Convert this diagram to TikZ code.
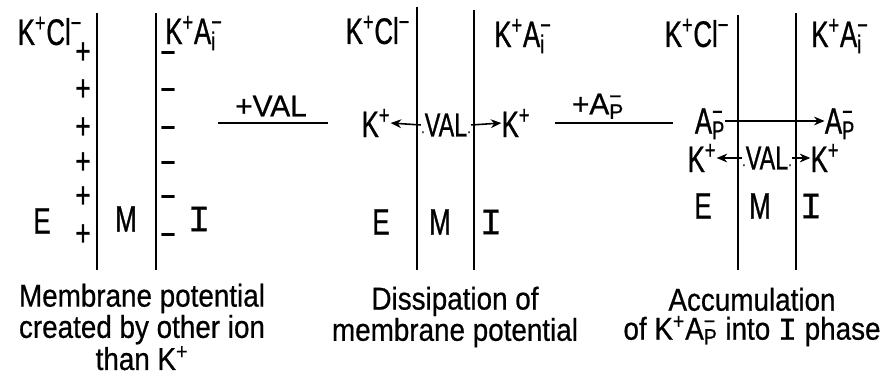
\documentclass[tikz,border=0pt]{standalone}
\usepackage{fontspec}
\setmainfont{Liberation Sans}[FakeStretch=0.7,FakeBold=0.8]
\newfontfamily\capfont{Liberation Sans}[FakeStretch=0.88,FakeBold=0.6]
\newfontfamily\rxnfont{Liberation Sans}[FakeBold=0.8]
\newfontfamily\romI{Liberation Mono}[FakeBold=0.8]
\usetikzlibrary{arrows.meta}
\newcommand\ionss[3]{#1{\ooalign{\textsubscript{#2}\cr\textsuperscript{#3}\cr}}}
\newcommand\pI{{\romI I}}
\newcommand\vdot{{\fontsize{9}{9}\selectfont·}}
\tikzset{
  lbl/.style={inner sep=0pt, font=\fontsize{21}{24}\selectfont},
  val/.style={inner sep=0pt, font=\fontsize{19}{22}\selectfont},
  rxn/.style={inner sep=0pt, font=\rxnfont\fontsize{17}{20}\selectfont},
  capt/.style={inner sep=0pt, align=center, font=\capfont\fontsize{18}{16.5}\selectfont},
  mem/.style={line width=1.1pt},
  flux/.style={-{Stealth[length=6pt,width=5pt]}, line width=0.9pt},
}
\begin{document}
\begin{tikzpicture}[x=0.02cm,y=-0.02cm]
    \useasboundingbox (0,0) rectangle (895,378);

    % Panel 1: potential from another ion
    \draw[mem] (97,13) -- (97,270);
    \draw[mem] (156,13) -- (156,270);
    \node[lbl] (kcl1) at (50,31) {K\textsuperscript{+}Cl\textsuperscript{−}};
    \node[lbl] (kai1) at (194,30) {K\textsuperscript{+}\ionss{A}{i}{−}};
    \foreach \y in {53,90,128,163,197,235} {
        \node[lbl] (pos-\y) at (83,\y) {+};
        \node[lbl] (neg-\y) at (168,\y+5) {−};
    }
    \node[lbl] (e1) at (42,221) {E};
    \node[lbl] (m1) at (126,219) {M};
    \node[lbl] (i1) at (199,219) {\pI};

    % Step 1: add valinomycin
    \node[rxn] (add1) at (271,106) {+VAL};
    \coordinate (r1a) at (218,123);
    \coordinate (r1b) at (328,123);
    \draw[line width=1pt] (r1a) -- (r1b);

    % Panel 2: dissipation
    \draw[mem] (417,7) -- (417,270);
    \draw[mem] (474,10) -- (474,270);
    \node[lbl] (kcl2) at (378,30) {K\textsuperscript{+}Cl\textsuperscript{−}};
    \node[lbl] (kai2) at (523,33) {K\textsuperscript{+}\ionss{A}{i}{−}};
    \node[val] (val2) at (446,125) {\vdot VAL\vdot};
    \node[lbl] (kl2) at (376,123) {K\textsuperscript{+}};
    \node[lbl] (kr2) at (516,123) {K\textsuperscript{+}};
    \draw[flux] (val2.west) -- (kl2.east);
    \draw[flux] (val2.east) -- (kr2.west);
    \node[lbl] (e2) at (381,222) {E};
    \node[lbl] (m2) at (440,222) {M};
    \node[lbl] (i2) at (491,222) {\pI};

    % Step 2: add permeant anion
    \node[rxn] (add2) at (598,104) {+\ionss{A}{P}{−}};
    \coordinate (r2a) at (555,123);
    \coordinate (r2b) at (673,123);
    \draw[line width=1pt] (r2a) -- (r2b);

    % Panel 3: accumulation
    \draw[mem] (738,15) -- (738,270);
    \draw[mem] (796,13) -- (796,270);
    \node[lbl] (kcl3) at (697,33) {K\textsuperscript{+}Cl\textsuperscript{−}};
    \node[lbl] (kai3) at (840,33) {K\textsuperscript{+}\ionss{A}{i}{−}};
    \node[lbl] (apl3) at (710,121) {\ionss{A}{P}{−}};
    \node[lbl] (apr3) at (840,121) {\ionss{A}{P}{−}};
    \draw[flux] (apl3.east) -- (apr3.west);
    \node[val] (val3) at (767,158) {\vdot VAL\vdot};
    \node[lbl] (kl3) at (702,158) {K\textsuperscript{+}};
    \node[lbl] (kr3) at (825,158) {K\textsuperscript{+}};
    \draw[flux] (val3.west) -- (kl3.east);
    \draw[flux] (val3.east) -- (kr3.west);
    \node[lbl] (e3) at (703,206) {E};
    \node[lbl] (m3) at (760,206) {M};
    \node[lbl] (i3) at (811,206) {\pI};

    % Captions
    \node[capt] (cap1) at (142,327) {Membrane potential\\created by other ion\\than K\textsuperscript{+}};
    \node[capt] (cap2) at (455,317) {Dissipation of\\membrane potential};
    \node[capt] (cap3) at (752,317) {Accumulation\\of K\textsuperscript{+}\ionss{A}{P}{−} into \pI{} phase};
\end{tikzpicture}
\end{document}
